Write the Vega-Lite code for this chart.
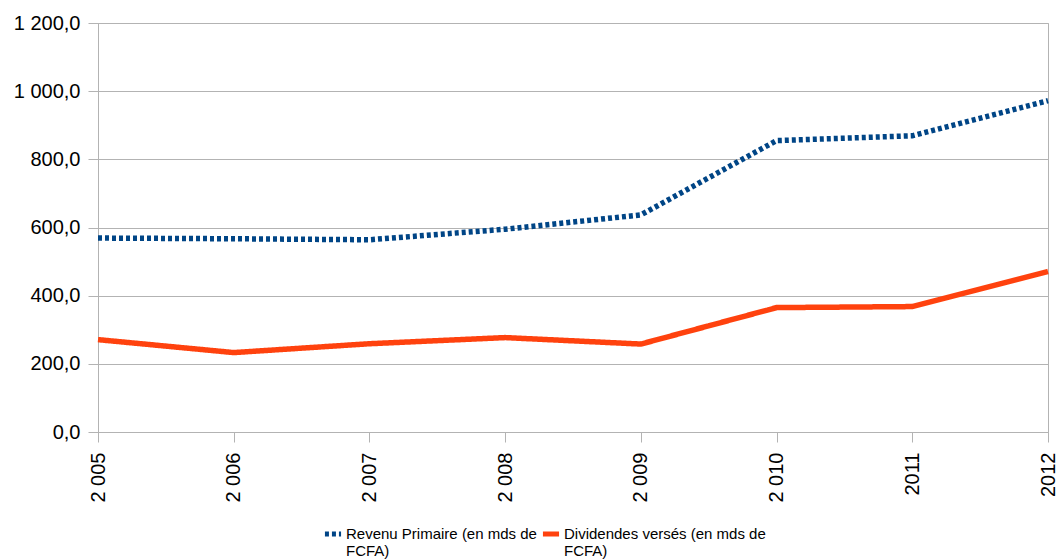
{
  "$schema": "https://vega.github.io/schema/vega-lite/v6.json",
  "width": 950,
  "height": 409,
  "autosize": "none",
  "padding": {"left": 98, "top": 23, "right": 10, "bottom": 128},
  "background": "white",
  "config": {
    "font": "Liberation Sans",
    "view": {"stroke": "#b3b3b3", "strokeWidth": 1}
  },
  "data": {
    "values": [
      {"annee": "2 005", "serie": "Revenu Primaire (en mds de FCFA)", "valeur": 569},
      {"annee": "2 006", "serie": "Revenu Primaire (en mds de FCFA)", "valeur": 567},
      {"annee": "2 007", "serie": "Revenu Primaire (en mds de FCFA)", "valeur": 564},
      {"annee": "2 008", "serie": "Revenu Primaire (en mds de FCFA)", "valeur": 595},
      {"annee": "2 009", "serie": "Revenu Primaire (en mds de FCFA)", "valeur": 637},
      {"annee": "2 010", "serie": "Revenu Primaire (en mds de FCFA)", "valeur": 855},
      {"annee": "2011", "serie": "Revenu Primaire (en mds de FCFA)", "valeur": 869},
      {"annee": "2012", "serie": "Revenu Primaire (en mds de FCFA)", "valeur": 972},
      {"annee": "2 005", "serie": "Dividendes versés (en mds de FCFA)", "valeur": 271},
      {"annee": "2 006", "serie": "Dividendes versés (en mds de FCFA)", "valeur": 233},
      {"annee": "2 007", "serie": "Dividendes versés (en mds de FCFA)", "valeur": 259},
      {"annee": "2 008", "serie": "Dividendes versés (en mds de FCFA)", "valeur": 277},
      {"annee": "2 009", "serie": "Dividendes versés (en mds de FCFA)", "valeur": 258},
      {"annee": "2 010", "serie": "Dividendes versés (en mds de FCFA)", "valeur": 365},
      {"annee": "2011", "serie": "Dividendes versés (en mds de FCFA)", "valeur": 368},
      {"annee": "2012", "serie": "Dividendes versés (en mds de FCFA)", "valeur": 471}
    ]
  },
  "mark": {"type": "line", "strokeWidth": 5.5, "strokeCap": "butt", "strokeJoin": "miter"},
  "encoding": {
    "x": {
      "field": "annee",
      "type": "ordinal",
      "sort": null,
      "scale": {"type": "point", "padding": 0},
      "axis": {
        "title": null,
        "labelAngle": -90,
        "labelAlign": "right",
        "labelBaseline": "middle",
        "labelFontSize": 20,
        "labelColor": "#000000",
        "labelPadding": 10,
        "tickSize": 10,
        "tickColor": "#b3b3b3",
        "domainColor": "#b3b3b3",
        "grid": false
      }
    },
    "y": {
      "field": "valeur",
      "type": "quantitative",
      "scale": {"domain": [0, 1200], "nice": false},
      "axis": {
        "title": null,
        "values": [0, 200, 400, 600, 800, 1000, 1200],
        "labelExpr": "replace(replace(format(datum.value, ',.1f'), ',', ' '), '.', ',')",
        "labelFontSize": 20,
        "labelColor": "#000000",
        "labelPadding": 8,
        "tickSize": 10,
        "tickColor": "#b3b3b3",
        "domainColor": "#b3b3b3",
        "gridColor": "#b3b3b3",
        "gridOpacity": 1
      }
    },
    "color": {
      "field": "serie",
      "type": "nominal",
      "sort": null,
      "scale": {
        "domain": ["Revenu Primaire (en mds de FCFA)", "Dividendes versés (en mds de FCFA)"],
        "range": ["#004586", "#ff420e"]
      },
      "legend": {
        "title": null,
        "orient": "none",
        "legendX": 224,
        "legendY": 500,
        "direction": "horizontal",
        "columns": 2,
        "columnPadding": -5,
        "symbolType": "stroke",
        "symbolSize": 260,
        "symbolStrokeWidth": 5,
        "labelFontSize": 15,
        "labelColor": "#000000",
        "labelOffset": 2,
        "labelLimit": 400,
        "labelBaseline": "middle",
        "labelExpr": "[slice(datum.label, 0, indexof(datum.label, ' FCFA')), 'FCFA)']"
      }
    },
    "strokeDash": {
      "field": "serie",
      "type": "nominal",
      "sort": null,
      "scale": {
        "domain": ["Revenu Primaire (en mds de FCFA)", "Dividendes versés (en mds de FCFA)"],
        "range": [[4, 3], [1, 0]]
      },
      "legend": {
        "title": null,
        "orient": "none",
        "legendX": 224,
        "legendY": 500,
        "direction": "horizontal",
        "columns": 2,
        "columnPadding": -5,
        "symbolType": "stroke",
        "symbolSize": 260,
        "symbolStrokeWidth": 5,
        "labelFontSize": 15,
        "labelColor": "#000000",
        "labelOffset": 2,
        "labelLimit": 400,
        "labelBaseline": "middle",
        "labelExpr": "[slice(datum.label, 0, indexof(datum.label, ' FCFA')), 'FCFA)']"
      }
    }
  }
}
